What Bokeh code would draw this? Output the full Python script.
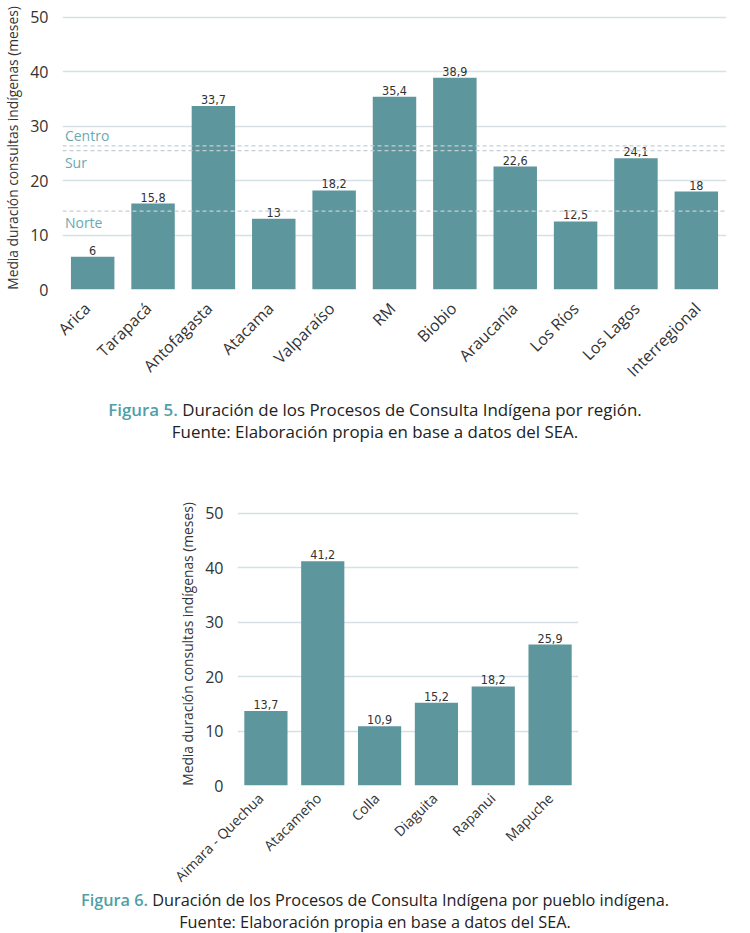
import math
from bokeh.plotting import figure
from bokeh.models import (ColumnDataSource, Span, Label, Div, FixedTicker, LabelSet,
                          Spacer, FactorRange, Range1d)
from bokeh.layouts import column, row
from bokeh.embed import file_html
from bokeh.resources import INLINE
from bokeh.core.properties import value

# ---- data ----
regions = ["Arica", "Tarapacá", "Antofagasta", "Atacama", "Valparaíso", "RM",
           "Biobio", "Araucanía", "Los Ríos", "Los Lagos", "Interregional"]
region_values = [6, 15.8, 33.7, 13, 18.2, 35.4, 38.9, 22.6, 12.5, 24.1, 18]

zone_names = ["Centro", "Sur", "Norte"]
zone_values = [26.4, 25.5, 14.4]

peoples = ["Aimara - Quechua", "Atacameño", "Colla", "Diaguita", "Rapanui", "Mapuche"]
people_values = [13.7, 41.2, 10.9, 15.2, 18.2, 25.9]

y_ticks = [0, 10, 20, 30, 40, 50]
y_label = "Media duración consultas indígenas (meses)"

BAR = "#5e969d"
TEAL = "#4f9fa8"
ZONE = "#6aa9b0"
GRID = "#d5e1e7"
TXT = "#333333"
FONT = "Open Sans"
NUM_FONT = "DejaVu Sans Condensed, Liberation Sans Narrow, Roboto, sans-serif"


def fmt(v):
    return ("%g" % v).replace(".", ",")


def make_fig(cats, vals, width, height, bl, br, bt, bb, bar_w):
    src = ColumnDataSource(dict(cat=cats, val=vals, lab=[fmt(v) for v in vals]))
    p = figure(x_range=cats, y_range=(0, 52), width=width, height=height,
               output_backend="svg", toolbar_location=None,
               min_border_left=bl, min_border_right=br,
               min_border_top=bt, min_border_bottom=bb,
               background_fill_color="white", border_fill_color="white")
    p.outline_line_color = None
    p.vbar(x="cat", top="val", width=bar_w, source=src, fill_color=BAR,
           line_color=None)
    p.add_layout(LabelSet(x="cat", y="val", text="lab", source=src,
                          text_align="center", text_baseline="bottom", y_offset=2,
                          text_font=value(NUM_FONT), text_font_size="12.5px",
                          text_color=TXT))

    p.xgrid.grid_line_color = None
    p.ygrid.grid_line_color = GRID
    p.ygrid.grid_line_width = 1.3
    p.yaxis.ticker = FixedTicker(ticks=y_ticks)
    p.yaxis.axis_line_color = None
    p.yaxis.major_tick_line_color = None
    p.yaxis.minor_tick_line_color = None
    p.yaxis.major_label_text_font = FONT
    p.yaxis.major_label_text_font_size = "16px"
    p.yaxis.major_label_text_color = TXT
    p.yaxis.major_label_standoff = 8
    p.yaxis.axis_label = y_label
    p.yaxis.axis_label_text_font = FONT
    p.yaxis.axis_label_text_font_size = "13.8px"
    p.yaxis.axis_label_text_font_style = "normal"
    p.yaxis.axis_label_text_color = TXT
    p.yaxis.axis_label_standoff = 5
    p.xaxis.visible = False
    p.x_range.range_padding = 0
    return p


def label_strip(cats, width, height, pad_units, yoff, fs):
    """Category labels, rotated 45 degrees, ending under each bar centre."""
    src = ColumnDataSource(dict(cat=cats))
    s = figure(x_range=FactorRange(factors=cats, range_padding=pad_units,
                                   range_padding_units="absolute"),
               y_range=Range1d(0, 1), width=width, height=height,
               output_backend="svg", toolbar_location=None,
               min_border=0, min_border_left=0, min_border_right=0,
               min_border_top=0, min_border_bottom=0,
               background_fill_color=None, border_fill_color=None)
    s.outline_line_color = None
    s.axis.visible = False
    s.grid.visible = False
    s.add_layout(LabelSet(x="cat", y=1, text="cat", source=src,
                          angle=math.pi / 4, text_align="right",
                          text_baseline="middle", x_offset=1, y_offset=yoff,
                          text_font=value(FONT), text_font_size=fs,
                          text_color=TXT))
    return s


# figure 5: frame x 55..726, y 6..289
p1 = make_fig(regions, region_values, 750, 301, 55, 24, 6, 12, 0.72)
for name, v in zip(zone_names, zone_values):
    p1.add_layout(Span(location=v, dimension="width", line_color="#c3cfd5",
                       line_dash="4 3", line_width=1.2))
    above = name == "Centro"
    p1.add_layout(Label(x=0.04, y=v, text=name, text_font=FONT,
                        text_font_size="14px", text_color=ZONE,
                        text_baseline="bottom" if above else "top",
                        y_offset=1 if above else -2))
s1 = label_strip(regions, 708, 100, 0.3, -16, "16px")

# figure 6: frame x 230..578, y 502..785
p2 = make_fig(peoples, people_values, 427, 353, 55, 24, 58, 12, 0.76)
s2 = label_strip(peoples, 580, 104, 2.0, -10, "14px")


def caption(num, text, h, pad, lh, fs):
    html = ('<div style="width:750px;text-align:center;font-family:\'Open Sans\';'
            'font-size:%.1fpx;line-height:%dpx;color:#222;padding-top:%dpx;">'
            '<span style="color:%s;font-weight:600;">Figura %d.</span> %s<br>'
            'Fuente: Elaboración propia en base a datos del SEA.</div>') % (fs, lh, pad, TEAL, num, text)
    return Div(text=html, width=750, height=h, margin=(0, 0, 0, 0),
               styles={"text-align": "center", "width": "750px"})


c1 = caption(5, "Duración de los Procesos de Consulta Indígena por región.", 55, 10, 22, 16.9)
c2 = caption(6, "Duración de los Procesos de Consulta Indígena por pueblo indígena.", 44, 0, 22, 16.3)

layout = column(
    p1,
    row(Spacer(width=37, height=100), s1, margin=(-12, 0, 0, 0)),
    c1,
    row(Spacer(width=175, height=353), p2),
    row(Spacer(width=114, height=104), s2, margin=(-12, 0, 0, 0)),
    c2,
    spacing=0,
)
open("out.html", "w").write(file_html(layout, INLINE))
